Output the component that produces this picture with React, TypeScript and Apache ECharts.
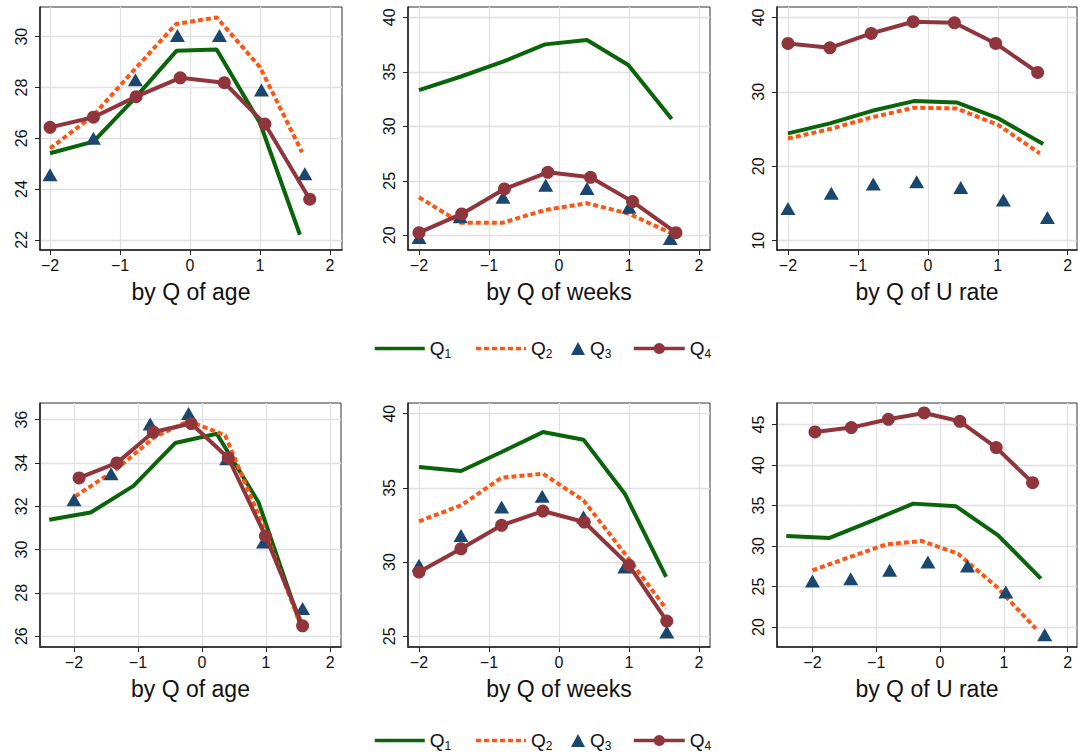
import React, { useEffect, useRef } from "react";
import * as echarts from "echarts";

// ---------- data ----------
const seriesNames = ["Q1", "Q2", "Q3", "Q4"];
const panelTitles = [
  "by Q of age", "by Q of weeks", "by Q of U rate",
  "by Q of age", "by Q of weeks", "by Q of U rate",
];
const xTicks = [-2, -1, 0, 1, 2];
const yTicks1 = [22, 24, 26, 28, 30];
const yTicks2 = [20, 25, 30, 35, 40];
const yTicks3 = [10, 20, 30, 40];
const yTicks4 = [26, 28, 30, 32, 34, 36];
const yTicks5 = [25, 30, 35, 40];
const yTicks6 = [20, 25, 30, 35, 40, 45];

// Panel 1: top, age
const p1Q1x = [-2, -1.38, -0.78, -0.19, 0.38, 1.0, 1.57];
const p1Q1y = [25.41, 25.87, 27.6, 29.45, 29.5, 26.6, 22.2];
const p1Q2x = [-2, -1.38, -0.78, -0.2, 0.38, 1.0, 1.6];
const p1Q2y = [25.6, 26.9, 28.75, 30.5, 30.76, 28.8, 25.45];
const p1Q3x = [-2, -1.38, -0.78, -0.18, 0.42, 1.02, 1.64];
const p1Q3y = [24.56, 26.0, 28.3, 30.05, 30.05, 27.9, 24.6];
const p1Q4x = [-2, -1.38, -0.77, -0.14, 0.49, 1.07, 1.71];
const p1Q4y = [26.43, 26.83, 27.64, 28.38, 28.19, 26.56, 23.6];

// Panel 2: top, weeks
const p2Q1x = [-2, -1.41, -0.8, -0.2, 0.4, 0.99, 1.61];
const p2Q1y = [33.33, 34.55, 35.93, 37.52, 37.92, 35.63, 30.67];
const p2Q2x = [-2, -1.41, -0.8, -0.2, 0.4, 0.99, 1.61];
const p2Q2y = [23.49, 21.16, 21.16, 22.32, 22.94, 22.0, 20.18];
const p2Q3x = [-2, -1.41, -0.8, -0.19, 0.4, 1.0, 1.59];
const p2Q3y = [19.8, 21.7, 23.5, 24.6, 24.3, 22.57, 19.7];
const p2Q4x = [-2, -1.39, -0.78, -0.16, 0.45, 1.05, 1.67];
const p2Q4y = [20.24, 21.96, 24.25, 25.78, 25.32, 23.09, 20.24];

// Panel 3: top, U rate
const p3Q1x = [-2, -1.4, -0.81, -0.2, 0.41, 1.01, 1.65];
const p3Q1y = [24.42, 25.76, 27.42, 28.76, 28.58, 26.43, 22.98];
const p3Q2x = [-2, -1.4, -0.81, -0.2, 0.41, 1.01, 1.6];
const p3Q2y = [23.74, 25.0, 26.56, 27.86, 27.77, 25.54, 21.73];
const p3Q3x = [-2, -1.38, -0.78, -0.16, 0.47, 1.08, 1.71];
const p3Q3y = [14.34, 16.36, 17.61, 17.92, 17.16, 15.46, 13.13];
const p3Q4x = [-2, -1.4, -0.81, -0.21, 0.38, 0.97, 1.57];
const p3Q4y = [36.5, 35.92, 37.85, 39.42, 39.28, 36.5, 32.61];

// Panel 4: bottom, age
const p4Q1x = [-2.385, -1.74, -1.07, -0.42, 0.23, 0.88, 1.53];
const p4Q1y = [31.38, 31.71, 32.94, 34.92, 35.35, 32.2, 26.6];
const p4Q2x = [-1.98, -1.36, -0.74, -0.21, 0.36, 0.96, 1.51];
const p4Q2y = [32.46, 33.66, 35.2, 35.94, 35.28, 31.05, 26.74];
const p4Q3x = [-2, -1.42, -0.81, -0.21, 0.385, 0.96, 1.57];
const p4Q3y = [32.3, 33.5, 35.8, 36.28, 34.2, 30.35, 27.28];
const p4Q4x = [-1.92, -1.33, -0.76, -0.17, 0.41, 0.99, 1.57];
const p4Q4y = [33.31, 34.0, 35.43, 35.82, 34.23, 30.63, 26.48];

// Panel 5: bottom, weeks
const p5Q1x = [-2, -1.4, -0.82, -0.23, 0.35, 0.94, 1.53];
const p5Q1y = [36.41, 36.14, 37.42, 38.76, 38.25, 34.61, 29.0];
const p5Q2x = [-2, -1.4, -0.82, -0.23, 0.35, 0.94, 1.53];
const p5Q2y = [32.75, 33.82, 35.69, 35.96, 34.16, 30.57, 26.86];
const p5Q3x = [-2, -1.4, -0.82, -0.24, 0.35, 0.94, 1.54];
const p5Q3y = [29.78, 31.8, 33.71, 34.43, 33.04, 29.67, 25.29];
const p5Q4x = [-2, -1.4, -0.82, -0.23, 0.36, 1.0, 1.54];
const p5Q4y = [29.33, 30.9, 32.48, 33.44, 32.7, 29.78, 26.03];

// Panel 6: bottom, U rate
const p6Q1x = [-2.41, -1.73, -1.05, -0.42, 0.25, 0.91, 1.58];
const p6Q1y = [31.24, 31.0, 33.18, 35.24, 34.91, 31.33, 25.97];
const p6Q2x = [-2, -1.41, -0.84, -0.29, 0.28, 0.89, 1.5];
const p6Q2y = [27.0, 28.65, 30.21, 30.63, 29.06, 24.94, 19.8];
const p6Q3x = [-2, -1.4, -0.79, -0.19, 0.43, 1.03, 1.64];
const p6Q3y = [25.68, 25.97, 27.0, 28.03, 27.54, 24.32, 19.05];
const p6Q4x = [-1.96, -1.39, -0.81, -0.25, 0.31, 0.88, 1.45];
const p6Q4y = [44.09, 44.63, 45.66, 46.44, 45.41, 42.16, 37.83];

// ---------- layout / style ----------
const FONT = "'Liberation Sans', Arial, Helvetica, sans-serif";
const GREEN = "#0a640a";
const ORANGE = "#ff5512";
const NAVY = "#1a476f";
const MAROON = "#90353b";

const panels = [
  { g: { left: 40, top: 7, width: 302, height: 243 }, x: [-2.143, 2.171], y: [21.6, 31.17], yt: yTicks1,
    s: [[p1Q1x, p1Q1y], [p1Q2x, p1Q2y], [p1Q3x, p1Q3y], [p1Q4x, p1Q4y]] },
  { g: { left: 408, top: 7, width: 302, height: 243 }, x: [-2.157, 2.157], y: [18.65, 40.95], yt: yTicks2,
    s: [[p2Q1x, p2Q1y], [p2Q2x, p2Q2y], [p2Q3x, p2Q3y], [p2Q4x, p2Q4y]] },
  { g: { left: 777, top: 7, width: 300, height: 243 }, x: [-2.157, 2.133], y: [8.75, 41.4], yt: yTicks3,
    s: [[p3Q1x, p3Q1y], [p3Q2x, p3Q2y], [p3Q3x, p3Q3y], [p3Q4x, p3Q4y]] },
  { g: { left: 40, top: 403, width: 301, height: 244 }, x: [-2.53, 2.17], y: [25.5, 36.77], yt: yTicks4,
    s: [[p4Q1x, p4Q1y], [p4Q2x, p4Q2y], [p4Q3x, p4Q3y], [p4Q4x, p4Q4y]] },
  { g: { left: 408, top: 403, width: 302, height: 244 }, x: [-2.157, 2.157], y: [24.28, 40.72], yt: yTicks5,
    s: [[p5Q1x, p5Q1y], [p5Q2x, p5Q2y], [p5Q3x, p5Q3y], [p5Q4x, p5Q4y]] },
  { g: { left: 777, top: 403, width: 300, height: 244 }, x: [-2.555, 2.146], y: [17.53, 47.67], yt: yTicks6,
    s: [[p6Q1x, p6Q1y], [p6Q2x, p6Q2y], [p6Q3x, p6Q3y], [p6Q4x, p6Q4y]] },
];

const minus = (v: number) => (v < 0 ? "\u2212" + Math.abs(v) : String(v));

function buildOption() {
  const grid: any[] = [];
  const xAxis: any[] = [];
  const yAxis: any[] = [];
  const series: any[] = [];
  panels.forEach((p, i) => {
    grid.push({ ...p.g, show: true, borderColor: "#333", borderWidth: 1, backgroundColor: "#fff" });
    xAxis.push({
      type: "value", gridIndex: i, min: p.x[0], max: p.x[1],
      name: panelTitles[i], nameLocation: "middle", nameGap: 30,
      nameTextStyle: { fontFamily: FONT, fontSize: 23, color: "#111" },
      axisLine: { show: true, onZero: false, lineStyle: { color: "#222", width: 1.5 } },
      axisTick: { show: true, length: 5, customValues: xTicks, lineStyle: { color: "#222", width: 1 } },
      axisLabel: { customValues: xTicks, formatter: minus, margin: 7, fontFamily: FONT, fontSize: 16, color: "#111" },
      splitLine: { show: true, lineStyle: { color: "#e0e0e0", width: 1.3 } },
    });
    yAxis.push({
      type: "value", gridIndex: i, min: p.y[0], max: p.y[1],
      axisLine: { show: true, onZero: false, lineStyle: { color: "#222", width: 1.5 } },
      axisTick: { show: true, length: 5, customValues: p.yt, lineStyle: { color: "#222", width: 1 } },
      axisLabel: { customValues: p.yt, rotate: 90, margin: 11, fontFamily: FONT, fontSize: 16, color: "#111" },
      splitLine: { show: true, lineStyle: { color: "#e0e0e0", width: 1.3 } },
    });
    const mk = (k: number) => p.s[k][0].map((x: number, j: number) => [x, p.s[k][1][j]]);
    series.push({
      name: seriesNames[0], type: "line", xAxisIndex: i, yAxisIndex: i, data: mk(0), symbol: "none",
      lineStyle: { color: GREEN, width: 4 }, itemStyle: { color: GREEN }, z: 2,
    });
    series.push({
      name: seriesNames[1], type: "line", xAxisIndex: i, yAxisIndex: i, data: mk(1), symbol: "none",
      lineStyle: { color: ORANGE, width: 4, type: [5, 3] }, itemStyle: { color: ORANGE }, z: 3,
    });
    series.push({
      name: seriesNames[2], type: "scatter", xAxisIndex: i, yAxisIndex: i, data: mk(2), symbol: "triangle",
      symbolSize: [15, 13], itemStyle: { color: NAVY, opacity: 1 }, z: 4,
    });
    series.push({
      name: seriesNames[3], type: "line", xAxisIndex: i, yAxisIndex: i, data: mk(3), symbol: "circle",
      symbolSize: 13, showSymbol: true,
      lineStyle: { color: MAROON, width: 4 }, itemStyle: { color: MAROON, borderWidth: 0 }, z: 5,
    });
  });

  const legendText = {
    formatter: (name: string) => `{q|Q}{s|${name.slice(1)}}`,
    textStyle: {
      rich: {
        q: { fontFamily: FONT, fontSize: 19, color: "#111", lineHeight: 22 },
        s: { fontFamily: FONT, fontSize: 12, color: "#111", lineHeight: 12, verticalAlign: "bottom" },
      },
    },
  };
  const hidden = { opacity: 0, color: "rgba(0,0,0,0)", borderWidth: 0 };
  const legendRow = (top: number) => [
    {
      left: 373, top, padding: 0,
      data: [
        { name: "Q1", itemStyle: hidden, lineStyle: { width: 3.5, color: GREEN } },
        { name: "Q2", itemStyle: hidden, lineStyle: { width: 3.5, color: ORANGE, type: [5, 3] } },
      ],
      itemWidth: 50, itemHeight: 14, itemGap: 23, selectedMode: false, ...legendText,
    },
    { left: 571, top, padding: 0, data: ["Q3"], itemWidth: 14, itemHeight: 13, selectedMode: false, ...legendText },
    {
      left: 632, top, padding: 0,
      data: [{ name: "Q4", lineStyle: { width: 3.5, color: MAROON } }],
      itemWidth: 51, itemHeight: 14, selectedMode: false, ...legendText,
    },
  ];

  return {
    animation: false,
    backgroundColor: "#fff",
    grid, xAxis, yAxis, series,
    legend: [...legendRow(339), ...legendRow(731)],
  };
}

export default function App() {
  const ref = useRef<HTMLDivElement>(null);
  useEffect(() => {
    if (!ref.current) return;
    const chart = echarts.init(ref.current, undefined, { renderer: "svg" });
    chart.setOption(buildOption() as any);
    return () => chart.dispose();
  }, []);
  return (
    <div
      ref={ref}
      style={{ position: "fixed", left: 0, top: 0, width: 1078, height: 755, background: "#fff" }}
    />
  );
}
